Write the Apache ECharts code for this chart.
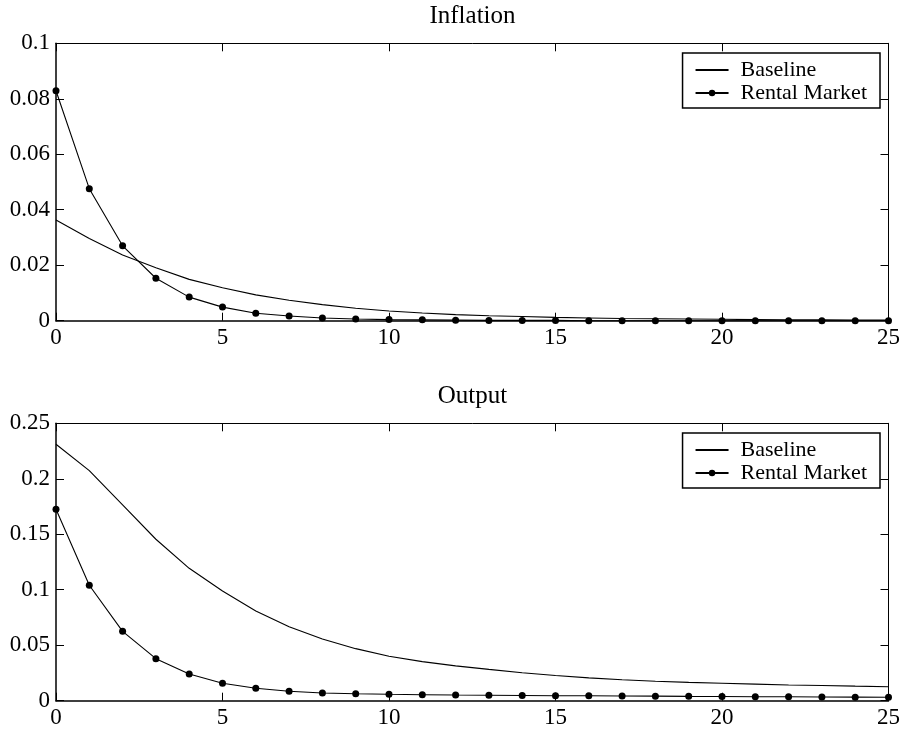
<!DOCTYPE html>
<html>
<head>
<meta charset="utf-8">
<script src="https://cdn.jsdelivr.net/npm/echarts@6/dist/echarts.min.js"></script>
<style>
html,body{margin:0;padding:0;background:#fff;}
#chart{width:903px;height:734px;}
</style>
</head>
<body>
<div id="chart"></div>
<script>
var periods = [0,1,2,3,4,5,6,7,8,9,10,11,12,13,14,15,16,17,18,19,20,21,22,23,24,25];
var xTicks = [0,5,10,15,20,25];
var inflationBaseline = [0.0363,0.0296,0.0237,0.0191,0.0149,0.0119,0.0093,0.0074,0.0058,0.0045,0.0035,0.0028,0.0022,0.0018,0.0015,0.0012,0.0010,0.0008,0.0007,0.0006,0.0005,0.0004,0.0003,0.0003,0.0002,0.0002];
var inflationRental = [0.0829,0.0476,0.0270,0.0153,0.0085,0.0049,0.0027,0.0017,0.0010,0.0006,0.0004,0.0003,0.0002,0.0001,0.0001,0.0001,0.0000,0.0000,0.0000,0.0000,0.0000,0.0000,0.0000,0.0000,0.0000,0.0000];
var outputBaseline = [0.2311,0.2073,0.1764,0.1455,0.1193,0.0989,0.0808,0.0667,0.0556,0.0469,0.0400,0.0352,0.0314,0.0282,0.0252,0.0227,0.0206,0.0189,0.0175,0.0165,0.0157,0.0149,0.0142,0.0137,0.0131,0.0126];
var outputRental = [0.1725,0.1040,0.0625,0.0379,0.0241,0.0157,0.0112,0.0085,0.0069,0.0063,0.0058,0.0054,0.0051,0.0049,0.0047,0.0045,0.0044,0.0042,0.0041,0.0039,0.0038,0.0036,0.0035,0.0033,0.0032,0.0031];
var titles = ['Inflation','Output'];
var seriesNames = ['Baseline','Rental Market'];

function pairs(vals){ return periods.map(function(p,i){ return [p, vals[i]]; }); }

var FONT = 'Liberation Serif';
var grids = [
  {left:56, right:14, top:43.3, height:277.4},
  {left:56, right:14, top:423.3, height:277.4}
];
var yRanges = [{max:0.1, interval:0.02},{max:0.25, interval:0.05}];

function fmtY(v){
  if (v === 0) return '0';
  return String(parseFloat(v.toFixed(4)));
}

var xAxes = [], yAxes = [];
grids.forEach(function(g, gi){
  xAxes.push({
    type:'value', gridIndex:gi, min:0, max:25, interval:5, position:'bottom',
    axisLine:{show:true, lineStyle:{color:'#000', width:1.5}},
    axisTick:{show:true, inside:true, length:8, lineStyle:{color:'#000', width:1}},
    axisLabel:{show:true, color:'#000', fontFamily:FONT, fontSize:23, margin:6},
    splitLine:{show:false}
  });
  xAxes.push({
    type:'value', gridIndex:gi, min:0, max:25, interval:5, position:'top',
    axisLine:{show:true, onZero:false, lineStyle:{color:'#000', width:1}},
    axisTick:{show:true, inside:true, length:8, lineStyle:{color:'#000', width:1}},
    axisLabel:{show:false}, splitLine:{show:false}
  });
  yAxes.push({
    type:'value', gridIndex:gi, min:0, max:yRanges[gi].max, interval:yRanges[gi].interval, position:'left',
    axisLine:{show:true, onZero:false, lineStyle:{color:'#000', width:1.5}},
    axisTick:{show:true, inside:true, length:8, lineStyle:{color:'#000', width:1}},
    axisLabel:{show:true, color:'#000', fontFamily:FONT, fontSize:23, margin:6, formatter:fmtY},
    splitLine:{show:false}
  });
  yAxes.push({
    type:'value', gridIndex:gi, min:0, max:yRanges[gi].max, interval:yRanges[gi].interval, position:'right',
    axisLine:{show:true, onZero:false, lineStyle:{color:'#000', width:1}},
    axisTick:{show:true, inside:true, length:8, lineStyle:{color:'#000', width:1}},
    axisLabel:{show:false}, splitLine:{show:false}
  });
});

var dataSets = [[inflationBaseline, inflationRental],[outputBaseline, outputRental]];
var series = [];
dataSets.forEach(function(ds, gi){
  series.push({
    name:seriesNames[0], type:'line', xAxisIndex:gi*2, yAxisIndex:gi*2,
    data:pairs(ds[0]), showSymbol:false, symbol:'none', smooth:false,
    lineStyle:{color:'#000', width:1.1}, itemStyle:{color:'#000'}, silent:true, animation:false, z:3
  });
  series.push({
    name:seriesNames[1], type:'line', xAxisIndex:gi*2, yAxisIndex:gi*2,
    data:pairs(ds[1]), symbol:'circle', symbolSize:7, showSymbol:true,
    lineStyle:{color:'#000', width:1.1}, itemStyle:{color:'#000'}, silent:true, animation:false, z:4
  });
});

var legends = [53, 433].map(function(t){
  return {
    orient:'vertical', right:23, top:t,
    backgroundColor:'#fff', borderColor:'#000', borderWidth:1.5, borderRadius:0,
    padding:[6,13,4,12], itemGap:1, itemWidth:33, itemHeight:8,
    textStyle:{color:'#000', fontFamily:FONT, fontSize:22, padding:[0,0,0,7]},
    data:[
      {name:seriesNames[0], itemStyle:{color:'rgba(0,0,0,0)', borderColor:'rgba(0,0,0,0)', borderWidth:0, opacity:0}},
      {name:seriesNames[1]}
    ],
    selectedMode:false, inactiveColor:'#000'
  };
});

var option = {
  backgroundColor:'#fff',
  animation:false,
  title:[
    {text:titles[0], left:472.5, top:4, textAlign:'center', padding:0, textStyle:{color:'#000', fontFamily:FONT, fontSize:25, fontWeight:'normal'}},
    {text:titles[1], left:472.5, top:384, textAlign:'center', padding:0, textStyle:{color:'#000', fontFamily:FONT, fontSize:25, fontWeight:'normal'}}
  ],
  legend:legends,
  grid:grids,
  xAxis:xAxes,
  yAxis:yAxes,
  series:series
};
var chart = echarts.init(document.getElementById('chart'), null, {renderer:'canvas'});
chart.setOption(option);
</script>
</body>
</html>
